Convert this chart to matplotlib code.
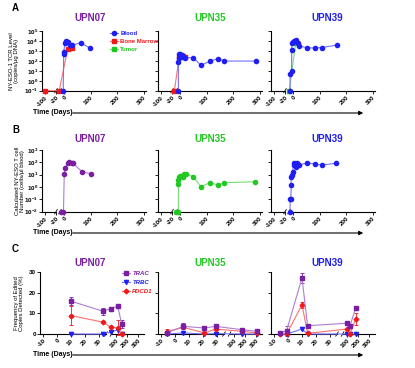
import numpy as np
import matplotlib
matplotlib.use('Agg')
import matplotlib.pyplot as plt
import matplotlib.transforms as mtransforms
from matplotlib.patches import FancyArrowPatch
from matplotlib.ticker import FixedLocator, FixedFormatter, NullLocator

plt.rcParams['font.family'] = ['Liberation Sans', 'DejaVu Sans']
plt.rcParams['font.weight'] = 'bold'
plt.rcParams['mathtext.fontset'] = 'custom'
plt.rcParams['mathtext.rm'] = 'Liberation Sans:bold'
plt.rcParams['mathtext.bf'] = 'Liberation Sans:bold'

W, H = 415, 368

# ---------------- data ----------------
patients = ['UPN07', 'UPN35', 'UPN39']

# A: NY-ESO-1 TCR level, log10(copies/ug DNA); -1 = axis floor (not detected)
upn07_blood_days = [-3, -1, -1, 4, 9, 14, 22, 30, 63, 98]
upn07_blood_log = [-1, 2.68, 2.9, 3.8, 4.0, 3.85, 3.62, 3.56, 3.83, 3.26]
upn07_bm_days = [-97, -16, 14, 31]
upn07_bm_log = [-1, -1, 3.2, 3.3]

upn35_blood_days = [-6, -6, -5, -3, 0, 6, 13, 19, 50, 79, 113, 142, 167, 286]
upn35_blood_log = [-1, 1.88, 2.32, 2.66, 2.73, 2.63, 2.39, 2.32, 2.32, 1.54, 1.98, 2.22, 1.98, 1.98]
upn35_bm_days = [-17, -3, 4, 10, 18]
upn35_bm_log = [-1, 2.4, 2.5, 2.45, 2.35]

upn39_blood_days = [-11, -11, -5, -5, -4, -1, 5, 11, 18, 24, 54, 83, 108, 164]
upn39_blood_log = [-1, 0.63, 0.97, 3.07, 3.75, 3.9, 4.0, 4.08, 3.75, 3.5, 3.3, 3.3, 3.34, 3.58]
upn39_tumor_days = [-14, 10]
upn39_tumor_log = [-1, 3.75]

# B: calculated NY-ESO T cell number, log10(cells/ul blood); -2 = axis floor
upn07_cells_days = [-10, -2, 1, 4, 14, 20, 29, 35, 67, 100]
upn07_cells_log = [-2, -2, 1.03, 1.57, 1.92, 2.0, 1.97, 1.92, 1.24, 1.08]
upn35_cells_days = [-15, -6, -6, -6, -4, 0, 6, 10, 15, 21, 50, 79, 113, 142, 167, 282]
upn35_cells_log = [-2, -2, 0.22, 0.57, 0.84, 0.89, 0.92, 0.84, 1.05, 1.05, 0.84, 0.03, 0.35, 0.16, 0.35, 0.43]
upn39_cells_days = [-11, -11, -8, -7, -7, -5, -1, 2, 5, 11, 16, 24, 54, 83, 108, 161]
upn39_cells_log = [-2, -1.0, -1.0, 0.16, 0.84, 0.97, 1.24, 1.97, 1.78, 1.65, 1.92, 1.78, 1.97, 1.86, 1.78, 1.92]

# C: frequency of edited copies detected (%)
upn07_edit_days = [10, 33, 57, 115, 152]
upn07_trac = [15.9, 11.0, 12.3, 13.5, 4.9]
upn07_trac_err = [2.0, 1.8, 0.0, 0.8, 1.8]
upn07_trbc = [0, 0, 1.0, 2.0, 0]
upn07_pdcd1 = [8.9, 5.7, 3.2, 3.0, 0]
upn07_pdcd1_err = [4.5, 0.5, 0, 3.6, 0]

upn35_edit_days = [-6, 6, 21, 29, 170, 310]
upn35_trac = [0.5, 3.7, 2.9, 3.7, 2.1, 1.3]
upn35_trac_err = [0.3, 1.5, 0.5, 0.8, 0.5, 0.3]
upn35_trbc = [0, 0.5, 0, 0.2, 0, 0]
upn35_pdcd1 = [1.2, 3.2, 0.5, 2.4, 1.3, 0.5]
upn35_pdcd1_err = [1.2, 0.5, 0.3, 0.5, 0.3, 0.2]

upn39_edit_days = [-6, -1, 10, 14, 97, 127, 179]
upn39_trac = [0.5, 1.6, 27.2, 4.0, 5.2, 4.0, 12.6]
upn39_trac_err = [0.2, 2.5, 2.5, 0.3, 0.5, 0.3, 0.8]
upn39_trbc = [0, 0, 2.4, 0, 0, 0, 0]
upn39_pdcd1 = [0, 0, 14.1, 0.3, 2.4, 0, 7.3]
upn39_pdcd1_err = [0, 0, 1.5, 0, 0, 0, 3.0]

ab_ticks = [-100, -20, 0, 100, 200, 300]
c_ticks = [-10, 0, 10, 20, 30, 100, 200, 300]

# ---------------- colours ----------------
PURPLE, PURPLE_L = '#7A1FA2', '#B07ED0'
BLUE, BLUE_L = '#1F1FF5', '#7272FF'
RED, RED_L = '#F01818', '#FF7070'
GREEN, GREEN_L = '#22C822', '#77DD77'
title_colors = [PURPLE, GREEN, BLUE]

# broken time axes (positions are in pixels along a 104 px wide axis)
AB_DAYS = [-1000, -20, -15, 1000]
AB_POS = [1.8 + (-1000 + 105) * 0.1435, 14.0, 18.0, 22 + 0.2657 * 1000]
C_DAYS = [-1000, 35, 60, 1000]
C_POS = [17 - 1400, 66, 71.6, 76 + 0.11 * 900]


def make_scale(days_bp, pos_bp):
    fwd = lambda d: np.interp(d, days_bp, pos_bp)
    inv = lambda p: np.interp(p, pos_bp, days_bp)
    return fwd, inv


fig = plt.figure(figsize=(W / 100, H / 100), dpi=100)
AXW = 104


def add_panel(left, top, height, days_bp, pos_bp, gap, ticks, show_ylab):
    ax = fig.add_axes([left / W, 1 - (top + height) / H, AXW / W, height / H])
    fwd, inv = make_scale(days_bp, pos_bp)
    ax.set_xscale('function', functions=(fwd, inv))
    x0, x1 = float(inv(0.0)), float(inv(AXW))
    ax.set_xlim(x0, x1)
    for s in ['top', 'right', 'bottom']:
        ax.spines[s].set_visible(False)
    ax.spines['left'].set_linewidth(0.8)
    trans = mtransforms.blended_transform_factory(ax.transData, ax.transAxes)
    for a, b in [(x0, gap[0]), (gap[1], x1)]:
        ax.plot([a, b], [0, 0], color='k', lw=0.8, transform=trans, clip_on=False)
    for g in gap:
        xf = float(fwd(g)) / AXW
        ax.plot([xf - 0.012, xf + 0.012], [-0.035, 0.035], color='k', lw=0.6,
                transform=ax.transAxes, clip_on=False)
    ax.xaxis.set_major_locator(FixedLocator(ticks))
    ax.xaxis.set_minor_locator(NullLocator())
    ax.set_xticklabels([str(t) for t in ticks], rotation=45, ha='right',
                       rotation_mode='anchor')
    ax.tick_params(axis='both', direction='out', length=2, width=0.6,
                   labelsize=4.5, pad=1)
    if not show_ylab:
        ax.tick_params(axis='y', labelleft=False)
    return ax


def series(ax, days, vals, marker, mc, lc, ms=3.0):
    ax.plot(days, vals, '-', color=lc, lw=0.8, marker=marker, ms=ms,
            mfc=mc, mec=mc, clip_on=False, zorder=3)


lefts_ab = [42, 158, 271]
lefts_c = [40, 158, 271]
title_x = [90, 210, 327]

# ---------------- row A ----------------
a_blood = [(upn07_blood_days, upn07_blood_log), (upn35_blood_days, upn35_blood_log),
           (upn39_blood_days, upn39_blood_log)]
a_bm = [(upn07_bm_days, upn07_bm_log), (upn35_bm_days, upn35_bm_log), None]
a_tumor = [None, None, (upn39_tumor_days, upn39_tumor_log)]
for i in range(3):
    ax = add_panel(lefts_ab[i], 31, 59.7, AB_DAYS, AB_POS, (-20, -15), ab_ticks, i == 0)
    ax.set_yscale('log')
    ax.set_ylim(1e-1, 1e5)
    ax.yaxis.set_major_locator(FixedLocator(10.0 ** np.arange(-1, 6)))
    ax.yaxis.set_minor_locator(NullLocator())
    ax.yaxis.set_major_formatter(FixedFormatter([r'$\mathbf{10^{%d}}$' % k for k in range(-1, 6)]))
    if a_bm[i]:
        series(ax, a_bm[i][0], 10.0 ** np.array(a_bm[i][1]), 's', RED, RED_L)
    if a_tumor[i]:
        series(ax, a_tumor[i][0], 10.0 ** np.array(a_tumor[i][1]), 's', GREEN, GREEN_L)
    series(ax, a_blood[i][0], 10.0 ** np.array(a_blood[i][1]), 'o', BLUE, BLUE_L)
    fig.text(title_x[i] / W, 1 - 18 / H, patients[i], color=title_colors[i],
             fontsize=7, ha='center', va='center')
    if i == 0:
        ax.set_ylabel('NY-ESO-1 TCR Level\n(copies/µg DNA)', fontsize=4.3, linespacing=1.1)
        ax.yaxis.set_label_coords(-0.22, 0.5)
        h = [plt.Line2D([], [], color=BLUE_L, lw=0.8, marker='o', ms=3, mfc=BLUE, mec=BLUE),
             plt.Line2D([], [], color=RED_L, lw=0.8, marker='s', ms=3, mfc=RED, mec=RED),
             plt.Line2D([], [], color=GREEN_L, lw=0.8, marker='s', ms=3, mfc=GREEN, mec=GREEN)]
        fig.legend(h, ['Blood', 'Bone Marrow', 'Tumor'], loc='upper left',
                   bbox_to_anchor=(107 / W, 1 - 28 / H), frameon=False, fontsize=4.3,
                   handlelength=1.3, handletextpad=0.4, labelspacing=0.45, borderpad=0,
                   labelcolor=[BLUE, RED, GREEN])

# ---------------- row B ----------------
b_data = [(upn07_cells_days, upn07_cells_log, PURPLE, PURPLE_L),
          (upn35_cells_days, upn35_cells_log, GREEN, GREEN_L),
          (upn39_cells_days, upn39_cells_log, BLUE, BLUE_L)]
for i in range(3):
    ax = add_panel(lefts_ab[i], 150, 61.7, AB_DAYS, AB_POS, (-20, -15), ab_ticks, i == 0)
    ax.set_yscale('log')
    ax.set_ylim(1e-2, 1e3)
    ax.yaxis.set_major_locator(FixedLocator(10.0 ** np.arange(-2, 4)))
    ax.yaxis.set_minor_locator(NullLocator())
    ax.yaxis.set_major_formatter(FixedFormatter([r'$\mathbf{10^{%d}}$' % k for k in range(-2, 4)]))
    d, v, mc, lc = b_data[i]
    series(ax, d, 10.0 ** np.array(v), 'o', mc, lc)
    fig.text(title_x[i] / W, 1 - 139 / H, patients[i], color=title_colors[i],
             fontsize=7, ha='center', va='center')
    if i == 0:
        ax.set_ylabel('Calculated NY-ESO T cell\nNumber (cells/µl blood)', fontsize=4.3,
                      linespacing=1.1)
        ax.yaxis.set_label_coords(-0.16, 0.5)

# ---------------- row C ----------------
c_data = [
    (upn07_edit_days, upn07_trac, upn07_trac_err, upn07_trbc, upn07_pdcd1, upn07_pdcd1_err),
    (upn35_edit_days, upn35_trac, upn35_trac_err, upn35_trbc, upn35_pdcd1, upn35_pdcd1_err),
    (upn39_edit_days, upn39_trac, upn39_trac_err, upn39_trbc, upn39_pdcd1, upn39_pdcd1_err),
]
for i in range(3):
    ax = add_panel(lefts_c[i], 272, 62, C_DAYS, C_POS, (35, 60), c_ticks, i == 0)
    ax.set_ylim(0, 30)
    ax.yaxis.set_major_locator(FixedLocator([0, 10, 20, 30]))
    days, trac, trac_e, trbc, pd, pd_e = c_data[i]
    ax.errorbar(days, pd, yerr=pd_e, fmt='-', color=RED_L, ecolor=RED, elinewidth=0.6,
                capsize=1.2, capthick=0.6, lw=0.8, marker='D', ms=2.4, mfc=RED, mec=RED,
                clip_on=False, zorder=3)
    ax.plot(days, trbc, '-', color=BLUE_L, lw=0.8, marker='v', ms=3, mfc=BLUE, mec=BLUE,
            clip_on=False, zorder=3)
    ax.errorbar(days, trac, yerr=trac_e, fmt='-', color=PURPLE_L, ecolor=PURPLE,
                elinewidth=0.6, capsize=1.2, capthick=0.6, lw=0.8, marker='s', ms=3,
                mfc=PURPLE, mec=PURPLE, clip_on=False, zorder=4)
    fig.text(title_x[i] / W, 1 - 263 / H, patients[i], color=title_colors[i],
             fontsize=7, ha='center', va='center')
    if i == 0:
        ax.set_ylabel('Frequency of Edited\nCopies Detected (%)', fontsize=4.3, linespacing=1.1)
        ax.yaxis.set_label_coords(-0.15, 0.5)
        h = [plt.Line2D([], [], color=PURPLE_L, lw=0.8, marker='s', ms=3, mfc=PURPLE, mec=PURPLE),
             plt.Line2D([], [], color=BLUE_L, lw=0.8, marker='v', ms=3, mfc=BLUE, mec=BLUE),
             plt.Line2D([], [], color=RED_L, lw=0.8, marker='D', ms=2.4, mfc=RED, mec=RED)]
        leg = fig.legend(h, ['TRAC', 'TRBC', 'PDCD1'], loc='upper left',
                         bbox_to_anchor=(119 / W, 1 - 268 / H), frameon=False, fontsize=4.3,
                         handlelength=1.3, handletextpad=0.4, labelspacing=0.6, borderpad=0,
                         labelcolor=[PURPLE, BLUE, RED])
        for t in leg.get_texts():
            t.set_fontstyle('italic')

# ---------------- panel letters and time arrows ----------------
for letter, y in [('A', 8), ('B', 130), ('C', 249)]:
    fig.text(12 / W, 1 - y / H, letter, fontsize=7, ha='left', va='center')
for y in [113, 233, 355]:
    fig.text(33 / W, 1 - y / H, 'Time (Days)', fontsize=5, ha='left', va='center')
    fig.add_artist(FancyArrowPatch((70 / W, 1 - y / H), (366 / W, 1 - y / H),
                                   transform=fig.transFigure, arrowstyle='-|>',
                                   mutation_scale=6, lw=0.8, color='k'))

fig.savefig('out.png', dpi=100)
